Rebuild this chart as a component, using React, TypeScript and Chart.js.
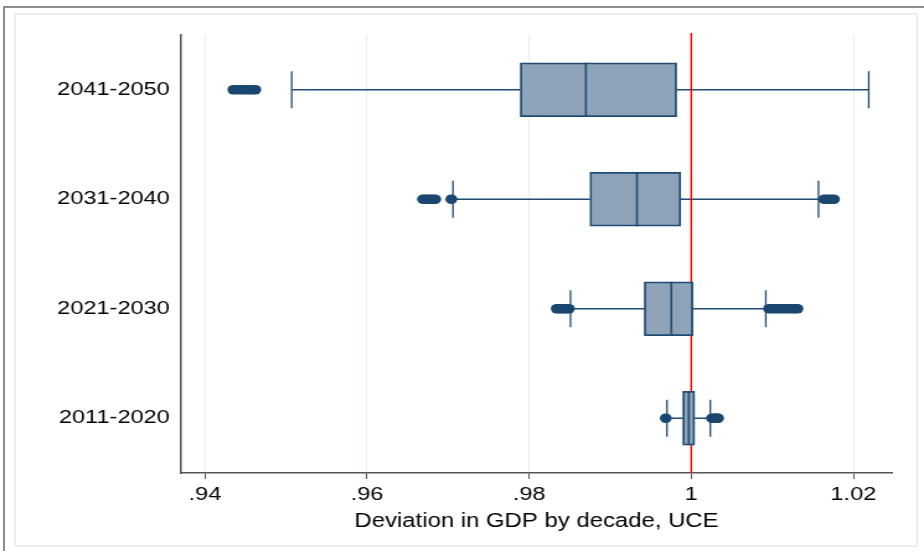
import { useEffect, useRef } from 'react';
import { Chart, registerables } from 'chart.js';

Chart.register(...registerables);

// ---- data ----
const categories = ['2041-2050', '2031-2040', '2021-2030', '2011-2020'];
const whiskerLow = [0.9507, 0.9706, 0.9851, 0.9970];
const q1 = [0.9789, 0.9875, 0.9942, 0.99895];
const median = [0.9870, 0.9933, 0.99754, 0.99969];
const q3 = [0.9982, 0.9987, 1.0002, 1.00043];
const whiskerHigh = [1.0219, 1.0157, 1.0092, 1.00235];
const outliers2041 = [0.9435, 0.9439, 0.9443, 0.9447, 0.9451, 0.9455, 0.9459, 0.9462];
const outliers2031 = [0.9669, 0.9672, 0.9675, 0.9678, 0.9681, 0.9684, 0.9704, 1.0164, 1.0168, 1.0172, 1.0176];
const outliers2021 = [0.9834, 0.9837, 0.9840, 0.9843, 0.9846, 0.9849, 1.0096, 1.0100, 1.0104, 1.0108, 1.0112, 1.0116, 1.0120, 1.0124, 1.0128, 1.0131];
const outliers2011 = [0.99685, 1.00256, 1.0028, 1.0030, 1.0032, 1.0033];
const xTickValues = [0.94, 0.96, 0.98, 1, 1.02];
const xTickLabels = ['.94', '.96', '.98', '1', '1.02'];
const referenceValue = 1;
const xMin = 0.93704;
const xMax = 1.02477;
const axisTitle = 'Deviation in GDP by decade, UCE';

// ---- style ----
const STRETCH = 924 / 745;
const CANVAS_W = 745;
const CANVAS_H = 551;
const FONT = "'Liberation Sans', Arial, Helvetica, sans-serif";
const boxFill = '#8ea3b8';
const navy = '#1f4b74';
const dotColor = '#1a476f';
const BOX_H = 54;
const CAP_H = 37;

const boxPlugin = {
  id: 'boxParts',
  beforeDatasetsDraw(chart: any) {
    const { ctx, chartArea, scales } = chart;
    const x = scales.x;
    const y = scales.y;
    ctx.save();
    ctx.strokeStyle = navy;
    ctx.lineWidth = 1.5;
    categories.forEach((_, i) => {
      const cy = y.getPixelForValue(i);
      const lo = x.getPixelForValue(whiskerLow[i]);
      const hi = x.getPixelForValue(whiskerHigh[i]);
      const a = x.getPixelForValue(q1[i]);
      const b = x.getPixelForValue(q3[i]);
      ctx.beginPath();
      ctx.moveTo(lo, cy);
      ctx.lineTo(a, cy);
      ctx.moveTo(b, cy);
      ctx.lineTo(hi, cy);
      ctx.stroke();
      ctx.lineWidth = 1.3;
      ctx.beginPath();
      ctx.moveTo(lo, cy - CAP_H / 2);
      ctx.lineTo(lo, cy + CAP_H / 2);
      ctx.moveTo(hi, cy - CAP_H / 2);
      ctx.lineTo(hi, cy + CAP_H / 2);
      ctx.stroke();
      ctx.lineWidth = 1.5;
    });
    const rx = x.getPixelForValue(referenceValue);
    ctx.strokeStyle = '#ff0000';
    ctx.lineWidth = 1.4;
    ctx.beginPath();
    ctx.moveTo(rx, chartArea.top - 2);
    ctx.lineTo(rx, chartArea.bottom);
    ctx.stroke();
    ctx.restore();
  },
  afterDatasetsDraw(chart: any) {
    const { ctx, scales } = chart;
    const x = scales.x;
    const y = scales.y;
    ctx.save();
    ctx.strokeStyle = navy;
    ctx.lineWidth = 1.6;
    categories.forEach((_, i) => {
      const cy = y.getPixelForValue(i);
      const m = x.getPixelForValue(median[i]);
      ctx.beginPath();
      ctx.moveTo(m, cy - BOX_H / 2);
      ctx.lineTo(m, cy + BOX_H / 2);
      ctx.stroke();
    });
    ctx.restore();
  },
};

export default function App() {
  const canvasRef = useRef<HTMLCanvasElement | null>(null);

  useEffect(() => {
    const canvas = canvasRef.current;
    if (!canvas) return;
    const outlierGroups = [outliers2041, outliers2031, outliers2021, outliers2011];
    const outlierPoints: { x: number; y: string }[] = [];
    outlierGroups.forEach((g, i) => g.forEach((v) => outlierPoints.push({ x: v, y: categories[i] })));

    const chart = new Chart(canvas, {
      type: 'bar',
      data: {
        labels: categories,
        datasets: [
          {
            type: 'scatter',
            data: outlierPoints as any,
            pointRadius: 4.8,
            pointBackgroundColor: dotColor,
            pointBorderColor: dotColor,
            pointBorderWidth: 0,
            order: 0,
          } as any,
          {
            type: 'bar',
            data: categories.map((_, i) => [q1[i], q3[i]]) as any,
            backgroundColor: boxFill,
            borderColor: navy,
            borderWidth: 1.8,
            borderSkipped: false,
            barThickness: BOX_H,
            order: 1,
          } as any,
        ],
      },
      options: {
        indexAxis: 'y',
        responsive: false,
        animation: false,
        devicePixelRatio: 1,
        layout: { padding: { left: 0, top: 35, right: CANVAS_W - 892 / STRETCH, bottom: 0 } },
        plugins: {
          legend: { display: false },
          tooltip: { enabled: false },
        },
        scales: {
          x: {
            type: 'linear',
            min: xMin,
            max: xMax,
            afterBuildTicks: (s: any) => {
              s.ticks = xTickValues.map((v) => ({ value: v }));
            },
            afterFit: (s: any) => {
              s.height = 78;
            },
            ticks: {
              autoSkip: false,
              maxRotation: 0,
              padding: 4,
              color: '#000',
              font: { family: FONT, size: 19 },
              callback: (_v: any, idx: number) => xTickLabels[idx],
            },
            grid: {
              color: '#e6eff2',
              lineWidth: 1,
              tickColor: '#555',
              tickLength: 6,
            },
            border: { color: '#555', width: 1.5 },
            title: {
              display: true,
              text: axisTitle,
              color: '#000',
              font: { family: FONT, size: 19.3 },
              padding: { top: 0, bottom: 18 },
            },
          },
          y: {
            type: 'category',
            offset: true,
            afterFit: (s: any) => {
              s.width = 181 / STRETCH;
            },
            ticks: {
              padding: 9,
              color: '#000',
              font: { family: FONT, size: 19 },
            },
            grid: { drawOnChartArea: false, drawTicks: false },
            border: { color: '#555', width: 1.5 },
          },
        },
      },
      plugins: [boxPlugin],
    } as any);
    return () => chart.destroy();
  }, []);

  return (
    <div style={{ position: 'fixed', left: 0, top: 0, width: 924, height: 551, background: '#fff', overflow: 'hidden' }}>
      <div style={{ position: 'absolute', left: 3, top: 6, right: 0, height: 2, background: '#8c8c8c' }} />
      <div style={{ position: 'absolute', left: 3, top: 6, bottom: 0, width: 2, background: '#8c8c8c' }} />
      <div
        style={{
          position: 'absolute',
          left: 14,
          top: 13,
          width: 918 - 14 - 4,
          height: 547 - 13 - 4,
          border: '2px solid #e8f0f3',
        }}
      />
      <div
        style={{
          position: 'absolute',
          left: 0,
          top: 0,
          width: CANVAS_W,
          height: CANVAS_H,
          transform: `scaleX(${STRETCH})`,
          transformOrigin: '0 0',
        }}
      >
        <canvas ref={canvasRef} width={CANVAS_W} height={CANVAS_H} style={{ display: 'block' }} />
      </div>
    </div>
  );
}
